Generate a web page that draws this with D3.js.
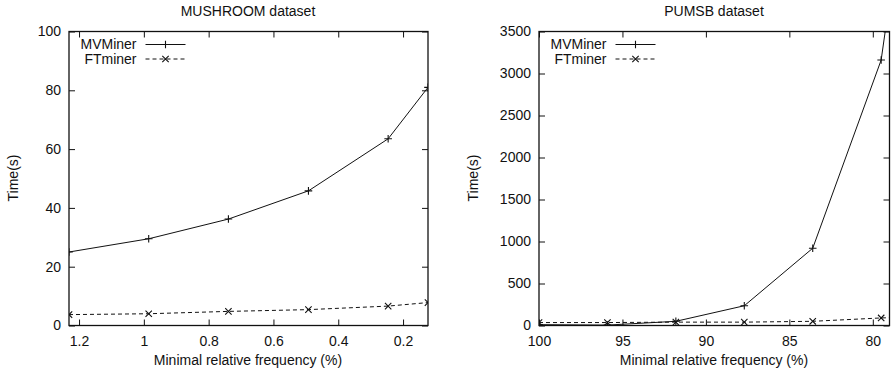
<!DOCTYPE html>
<html>
<head>
<meta charset="utf-8">
<script src="https://cdn.jsdelivr.net/npm/d3@7"></script>
<style>
  html, body { margin: 0; padding: 0; background: #fff; }
  svg { display: block; }
  text { font-family: "Liberation Sans", Arial, Helvetica, sans-serif; fill: #111; }
</style>
</head>
<body>
<svg id="chart" width="892" height="373"></svg>
<script>
// ---------- data ----------
const seriesNames = ["MVMiner", "FTminer"];

// MUSHROOM dataset
const mushroomX = [1.231, 0.985, 0.739, 0.492, 0.246, 0.123];
const mushroomMV = [25, 29.5, 36.2, 45.8, 63.5, 81];
const mushroomFT = [3.7, 4.0, 4.8, 5.4, 6.6, 7.8];
const mushroomXTicks = [1.2, 1, 0.8, 0.6, 0.4, 0.2];
const mushroomYTicks = [0, 20, 40, 60, 80, 100];

// PUMSB dataset
const pumsbX = [100, 95.9, 91.8, 87.7, 83.6, 79.5, 75.4];
const pumsbMV = [10, 5, 50, 235, 920, 3160, 8900];
const pumsbFT = [35, 35, 40, 40, 50, 90, 110];
const pumsbXTicks = [100, 95, 90, 85, 80];
const pumsbYTicks = [0, 500, 1000, 1500, 2000, 2500, 3000, 3500];

const svg = d3.select("#chart");

function drawPanel(cfg) {
  const g = svg.append("g");
  const x = d3.scaleLinear().domain(cfg.xDomain).range([cfg.left, cfg.right]);
  const y = d3.scaleLinear().domain(cfg.yDomain).range([cfg.bottom, cfg.top]);
  const fmt = d => String(d);

  const clipId = "clip-" + cfg.id;
  svg.append("clipPath").attr("id", clipId)
    .append("rect")
    .attr("x", cfg.left).attr("y", cfg.top)
    .attr("width", cfg.right - cfg.left).attr("height", cfg.bottom - cfg.top);

  // bottom axis (ticks inward)
  const bx = g.append("g").attr("transform", `translate(0,${cfg.bottom})`)
    .call(d3.axisBottom(x).tickValues(cfg.xTicks).tickFormat(fmt).tickSizeInner(-6).tickSizeOuter(0).tickPadding(11));
  // top mirror
  const tx = g.append("g").attr("transform", `translate(0,${cfg.top})`)
    .call(d3.axisTop(x).tickValues(cfg.xTicks).tickFormat("").tickSizeInner(-6).tickSizeOuter(0));
  // left axis
  const ly = g.append("g").attr("transform", `translate(${cfg.left},0)`)
    .call(d3.axisLeft(y).tickValues(cfg.yTicks).tickFormat(fmt).tickSizeInner(-6).tickSizeOuter(0).tickPadding(8));
  // right mirror
  const ry = g.append("g").attr("transform", `translate(${cfg.right},0)`)
    .call(d3.axisRight(y).tickValues(cfg.yTicks).tickFormat("").tickSizeInner(-6).tickSizeOuter(0));

  [bx, tx, ly, ry].forEach(a => {
    a.select(".domain").remove();
    a.selectAll("line").attr("stroke", "#111").attr("stroke-width", 1);
    a.selectAll("text").style("font-size", "14px").style("font-family", '"Liberation Sans", Arial, sans-serif').attr("fill", "#111");
  });

  // border
  g.append("rect")
    .attr("x", cfg.left).attr("y", cfg.top)
    .attr("width", cfg.right - cfg.left).attr("height", cfg.bottom - cfg.top)
    .attr("fill", "none").attr("stroke", "#111").attr("stroke-width", 1.3);

  // series
  const series = [
    { name: seriesNames[0], vals: cfg.mv, dash: null, marker: "plus" },
    { name: seriesNames[1], vals: cfg.ft, dash: "4,3", marker: "cross" }
  ];
  const line = d3.line().x(d => x(d[0])).y(d => y(d[1]));
  const plot = g.append("g").attr("clip-path", `url(#${clipId})`);

  function marker(sel, type, cx, cy) {
    const s = type === "plus" ? 3.8 : 3.2;
    const p = type === "plus"
      ? `M${cx - s},${cy}H${cx + s}M${cx},${cy - s}V${cy + s}`
      : `M${cx - s},${cy - s}L${cx + s},${cy + s}M${cx - s},${cy + s}L${cx + s},${cy - s}`;
    sel.append("path").attr("d", p).attr("stroke", "#111").attr("stroke-width", 1.1).attr("fill", "none");
  }

  series.forEach(s => {
    const pts = cfg.xs.map((v, i) => [v, s.vals[i]]);
    plot.append("path").datum(pts)
      .attr("d", line)
      .attr("fill", "none").attr("stroke", "#111").attr("stroke-width", 1)
      .attr("stroke-dasharray", s.dash);
    const inRange = pts.filter(p => {
      const lo = Math.min(...cfg.xDomain), hi = Math.max(...cfg.xDomain);
      return p[0] >= lo - 1e-9 && p[0] <= hi + 1e-9 && p[1] <= cfg.yDomain[1];
    });
    inRange.forEach(p => marker(plot, s.marker, x(p[0]), y(p[1])));
  });

  // legend
  const lg = g.append("g");
  series.forEach((s, i) => {
    const yy = cfg.top + 13 + i * 14.5;
    const tx0 = cfg.left + 67.5;
    lg.append("text").attr("x", tx0).attr("y", yy).attr("dy", "0.35em")
      .attr("text-anchor", "end").style("font-size", "14px").text(s.name);
    lg.append("line").attr("x1", tx0 + 9).attr("x2", tx0 + 49).attr("y1", yy).attr("y2", yy)
      .attr("stroke", "#111").attr("stroke-width", 1).attr("stroke-dasharray", s.dash);
    marker(lg, s.marker, tx0 + 29, yy);
  });

  // titles & labels
  const cx = (cfg.left + cfg.right) / 2;
  g.append("text").attr("x", cfg.titleX).attr("y", 15.5).attr("text-anchor", "middle")
    .style("font-size", "14px").text(cfg.title);
  g.append("text").attr("x", cfg.titleX).attr("y", 364.5).attr("text-anchor", "middle")
    .style("font-size", "14px").text("Minimal relative frequency (%)");
  g.append("text").attr("transform", `translate(${cfg.ylabX},178) rotate(-90)`)
    .attr("text-anchor", "middle").style("font-size", "14px").text("Time(s)");
}

drawPanel({
  id: "mushroom", title: "MUSHROOM dataset", titleX: 248, ylabX: 17.5,
  left: 69, right: 428, top: 31.5, bottom: 325.5,
  xDomain: [1.231, 0.123], yDomain: [0, 100],
  xTicks: mushroomXTicks, yTicks: mushroomYTicks,
  xs: mushroomX, mv: mushroomMV, ft: mushroomFT
});

drawPanel({
  id: "pumsb", title: "PUMSB dataset", titleX: 714, ylabX: 478,
  left: 539, right: 889.5, top: 31.5, bottom: 325.5,
  xDomain: [100, 79], yDomain: [0, 3500],
  xTicks: pumsbXTicks, yTicks: pumsbYTicks,
  xs: pumsbX, mv: pumsbMV, ft: pumsbFT
});
</script>
</body>
</html>
